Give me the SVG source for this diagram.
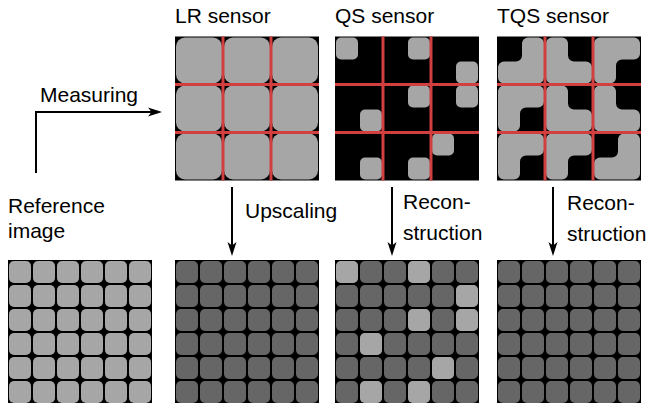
<svg xmlns="http://www.w3.org/2000/svg" xmlns:xlink="http://www.w3.org/1999/xlink" width="649" height="403" viewBox="0 0 649 403">
<style>
text{font-family:"Liberation Sans",Arial,sans-serif;font-size:21px;fill:#000}
.bg{fill:#000}
.grid{fill:none;stroke:#d23f3f;stroke-width:3}
.lt{fill:#a6a6a6}
.dk{fill:#666}
.conn{fill:none;stroke:#000;stroke-width:2}
</style>
<defs>
<pattern id="pLight" width="24" height="24" patternUnits="userSpaceOnUse"><rect x="1" y="1" width="22" height="22" rx="5" class="lt"/></pattern>
<pattern id="pDark" width="24" height="24" patternUnits="userSpaceOnUse"><rect x="1" y="1" width="22" height="22" rx="5" class="dk"/></pattern>
<path id="ell" class="lt" d="M31,1 H41 A6 6 0 0 1 47,7 V41 A6 6 0 0 1 41,47 H7 A6 6 0 0 1 1,41 V31 A6 6 0 0 1 7,25 H19 A6 6 0 0 0 25,19 V7 A6 6 0 0 1 31,1 Z"/>
<marker id="ah" markerUnits="userSpaceOnUse" markerWidth="14" markerHeight="10" refX="8" refY="5" orient="auto"><path d="M0,0.5 L14,5 L0,9.5 L3.5,5 Z" fill="#000"/></marker>
</defs>

<g id="lr-sensor" transform="translate(175,36.5)">
<rect class="bg" width="144" height="144"/>
<rect class="lt" x="1" y="1" width="46" height="46" rx="9"/>
<rect class="lt" x="49" y="1" width="46" height="46" rx="9"/>
<rect class="lt" x="97" y="1" width="46" height="46" rx="9"/>
<rect class="lt" x="1" y="49" width="46" height="46" rx="9"/>
<rect class="lt" x="49" y="49" width="46" height="46" rx="9"/>
<rect class="lt" x="97" y="49" width="46" height="46" rx="9"/>
<rect class="lt" x="1" y="97" width="46" height="46" rx="9"/>
<rect class="lt" x="49" y="97" width="46" height="46" rx="9"/>
<rect class="lt" x="97" y="97" width="46" height="46" rx="9"/>
<path class="grid" d="M48,0V144M96,0V144M0,48H144M0,96H144"/>
</g>

<g id="qs-sensor" transform="translate(335,36.5)">
<rect class="bg" width="144" height="144"/>
<rect class="lt" x="1" y="1" width="22" height="22" rx="5"/>
<rect class="lt" x="73" y="1" width="22" height="22" rx="5"/>
<rect class="lt" x="121" y="25" width="22" height="22" rx="5"/>
<rect class="lt" x="25" y="73" width="22" height="22" rx="5"/>
<rect class="lt" x="73" y="49" width="22" height="22" rx="5"/>
<rect class="lt" x="121" y="49" width="22" height="22" rx="5"/>
<rect class="lt" x="25" y="121" width="22" height="22" rx="5"/>
<rect class="lt" x="73" y="121" width="22" height="22" rx="5"/>
<rect class="lt" x="97" y="97" width="22" height="22" rx="5"/>
<path class="grid" d="M48,0V144M96,0V144M0,48H144M0,96H144"/>
</g>

<g id="tqs-sensor" transform="translate(497,36.5)">
<rect class="bg" width="144" height="144"/>
<use xlink:href="#ell" href="#ell" transform="translate(0,0)"/>
<use xlink:href="#ell" href="#ell" transform="translate(48,0) rotate(90,24,24)"/>
<use xlink:href="#ell" href="#ell" transform="translate(96,0) rotate(180,24,24)"/>
<use xlink:href="#ell" href="#ell" transform="translate(0,48) rotate(180,24,24)"/>
<use xlink:href="#ell" href="#ell" transform="translate(48,48) rotate(90,24,24)"/>
<use xlink:href="#ell" href="#ell" transform="translate(96,48) rotate(90,24,24)"/>
<use xlink:href="#ell" href="#ell" transform="translate(0,96) rotate(180,24,24)"/>
<use xlink:href="#ell" href="#ell" transform="translate(48,96) rotate(180,24,24)"/>
<use xlink:href="#ell" href="#ell" transform="translate(96,96)"/>
<path class="grid" d="M48,0V144M96,0V144M0,48H144M0,96H144"/>
</g>

<g id="reference-image" transform="translate(8,260)">
<rect class="bg" width="144" height="144"/>
<rect width="144" height="144" fill="url(#pLight)"/>
</g>

<g id="lr-upscaled" transform="translate(175,260)">
<rect class="bg" width="144" height="144"/>
<rect width="144" height="144" fill="url(#pDark)"/>
</g>

<g id="qs-reconstruction" transform="translate(335,260)">
<rect class="bg" width="144" height="144"/>
<rect width="144" height="144" fill="url(#pDark)"/>
<rect class="lt" x="1" y="1" width="22" height="22" rx="5"/>
<rect class="lt" x="73" y="1" width="22" height="22" rx="5"/>
<rect class="lt" x="121" y="25" width="22" height="22" rx="5"/>
<rect class="lt" x="73" y="49" width="22" height="22" rx="5"/>
<rect class="lt" x="121" y="49" width="22" height="22" rx="5"/>
<rect class="lt" x="25" y="73" width="22" height="22" rx="5"/>
<rect class="lt" x="97" y="97" width="22" height="22" rx="5"/>
<rect class="lt" x="25" y="121" width="22" height="22" rx="5"/>
<rect class="lt" x="73" y="121" width="22" height="22" rx="5"/>
</g>

<g id="tqs-reconstruction" transform="translate(497,260)">
<rect class="bg" width="144" height="144"/>
<rect width="144" height="144" fill="url(#pDark)"/>
</g>

<g id="connectors">
<path class="conn" d="M36,173 V112 H156" marker-end="url(#ah)"/>
<path class="conn" d="M232,187 V250" marker-end="url(#ah)"/>
<path class="conn" d="M392,187 V250" marker-end="url(#ah)"/>
<path class="conn" d="M553,187 V250" marker-end="url(#ah)"/>
</g>

<g id="labels">
<text x="175" y="23">LR sensor</text>
<text x="335" y="23">QS sensor</text>
<text x="497" y="23">TQS sensor</text>
<text x="40" y="102">Measuring</text>
<text x="8" y="213">Reference</text>
<text x="8" y="238">image</text>
<text x="245" y="218">Upscaling</text>
<text x="403" y="209">Recon-</text>
<text x="403" y="240">struction</text>
<text x="567" y="210">Recon-</text>
<text x="567" y="241">struction</text>
</g>
</svg>
